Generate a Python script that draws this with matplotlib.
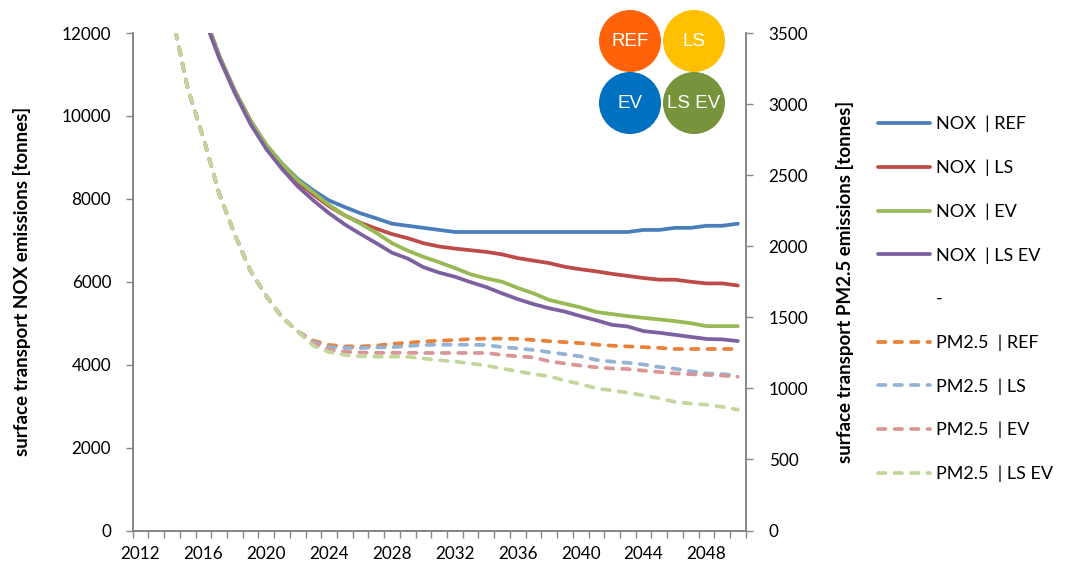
import numpy as np
import matplotlib.pyplot as plt
from matplotlib.lines import Line2D
from matplotlib.patches import Circle
from matplotlib.ticker import FixedLocator

plt.rcParams['font.family'] = ['Lato', 'DejaVu Sans']

years = list(range(2012, 2051))

# NOX, left axis [tonnes]
nox_ref = [17800, 16200, 14800, 13600, 12500, 11450, 10600, 9880, 9300, 8850,
           8480, 8200, 7960, 7800, 7650, 7530, 7400, 7350, 7300, 7250,
           7200, 7200, 7200, 7200, 7200, 7200, 7200, 7200, 7200, 7200,
           7200, 7200, 7250, 7250, 7300, 7300, 7350, 7350, 7400]
nox_ls = [17800, 16200, 14800, 13600, 12500, 11450, 10600, 9880, 9250, 8800,
          8400, 8100, 7820, 7600, 7420, 7280, 7150, 7050, 6930, 6850,
          6800, 6760, 6720, 6660, 6570, 6510, 6450, 6360, 6300, 6250,
          6190, 6140, 6090, 6050, 6050, 6000, 5960, 5960, 5910]
nox_ev = [17800, 16200, 14800, 13600, 12500, 11450, 10600, 9880, 9300, 8850,
          8450, 8150, 7850, 7600, 7400, 7180, 6930, 6750, 6600, 6470,
          6330, 6180, 6080, 6000, 5850, 5720, 5560, 5470, 5380, 5270,
          5220, 5170, 5130, 5090, 5050, 5000, 4930, 4930, 4930]
nox_lsev = [17700, 16100, 14700, 13500, 12400, 11400, 10550, 9800, 9200, 8720,
            8300, 7960, 7650, 7380, 7150, 6930, 6700, 6560, 6350, 6220,
            6120, 5990, 5870, 5720, 5580, 5460, 5360, 5280, 5170, 5070,
            4960, 4920, 4810, 4770, 4720, 4670, 4620, 4610, 4570]

# PM2.5, right axis [tonnes]
pm_ref = [4700, 4150, 3630, 3110, 2760, 2370, 2080, 1825, 1650, 1500, 1400,
          1335, 1305, 1295, 1295, 1300, 1314, 1320, 1330, 1335, 1340, 1347,
          1350, 1350, 1348, 1340, 1332, 1325, 1318, 1308, 1300, 1295, 1290,
          1285, 1277, 1277, 1277, 1277, 1277]
pm_ls = [4700, 4150, 3630, 3110, 2760, 2370, 2080, 1825, 1650, 1500, 1400,
         1325, 1290, 1284, 1284, 1288, 1290, 1298, 1305, 1307, 1307, 1307,
         1305, 1290, 1282, 1270, 1255, 1240, 1225, 1200, 1188, 1180, 1168,
         1150, 1138, 1120, 1105, 1100, 1090]
pm_ev = [4700, 4150, 3630, 3110, 2760, 2370, 2080, 1825, 1650, 1500, 1400,
         1315, 1270, 1258, 1252, 1250, 1250, 1250, 1249, 1249, 1249, 1249,
         1249, 1235, 1225, 1218, 1190, 1175, 1160, 1148, 1140, 1136, 1125,
         1115, 1105, 1100, 1095, 1090, 1082]
pm_lsev = [4700, 4150, 3630, 3110, 2760, 2370, 2080, 1825, 1650, 1500, 1400,
           1300, 1255, 1235, 1225, 1223, 1223, 1222, 1210, 1198, 1188, 1175,
           1160, 1140, 1120, 1100, 1085, 1055, 1030, 1000, 985, 970, 950,
           930, 905, 893, 885, 870, 850]

nox_series = [("NOX  | REF", nox_ref, "#4A7EBB"),
              ("NOX  | LS", nox_ls, "#BE4B48"),
              ("NOX  | EV", nox_ev, "#98B954"),
              ("NOX  | LS EV", nox_lsev, "#7D60A0")]
pm_series = [("PM2.5  | REF", pm_ref, "#E8823A"),
             ("PM2.5  | LS", pm_ls, "#95B3D7"),
             ("PM2.5  | EV", pm_ev, "#D99694"),
             ("PM2.5  | LS EV", pm_lsev, "#C3D69B")]

scenarios = ["REF", "LS", "EV", "LS EV"]
scen_colors = ["#FF6309", "#FFC000", "#0070C0", "#77933C"]

fig = plt.figure(figsize=(10.71, 5.71), dpi=100)
ax = fig.add_axes([132.7 / 1071, 40.5 / 571, 613 / 1071, 497.5 / 571])
ax2 = ax.twinx()

grey = "#868686"
lw = 2.7
fs = 12.3

handles = []
for name, vals, col in nox_series:
    h, = ax.plot(years, vals, color=col, lw=lw, solid_capstyle='round', label=name)
    handles.append(h)
handles.append(Line2D([], [], linestyle='none', label='-'))
for name, vals, col in pm_series:
    h, = ax2.plot(years, vals, color=col, lw=lw, dashes=(2.0, 2.4),
                  dash_capstyle='round', label=name)
    handles.append(h)

ax.set_xlim(2011.5, 2050.5)
ax.set_ylim(0, 12000)
ax2.set_ylim(0, 3500)
ax.set_yticks(range(0, 12001, 2000))
ax2.set_yticks(range(0, 3501, 500))
ax.set_xticks(range(2012, 2050, 4))
ax.xaxis.set_minor_locator(FixedLocator(np.arange(2011.5, 2051, 1)))
ax.tick_params(axis='x', which='major', length=0, pad=11, labelsize=fs)
ax.tick_params(axis='x', which='minor', length=5, width=1, color=grey, direction='out')
ax.tick_params(axis='y', length=5, width=1, color=grey, pad=10.5, labelsize=fs)
ax2.tick_params(axis='y', length=5, width=1, color=grey, pad=11.5, labelsize=fs)

for a in (ax, ax2):
    a.spines['top'].set_visible(False)
    for s in ('left', 'right', 'bottom'):
        a.spines[s].set_color(grey)
        a.spines[s].set_linewidth(1.2)

ax.set_ylabel("surface transport NOX emissions [tonnes]", fontsize=13.5,
              fontweight='bold')
ax2.set_ylabel("surface transport PM2.5 emissions [tonnes]", fontsize=13.5,
               fontweight='bold')
ax.yaxis.set_label_coords(-0.166, 0.5)
ax2.yaxis.set_label_coords(1.147, 0.5)

fig.legend(handles=handles, loc='upper left', bbox_to_anchor=(878 / 1071, 1 - 116 / 571),
           frameon=False, fontsize=13, handlelength=2.9, handletextpad=0.33,
           labelspacing=1.51, borderpad=0, borderaxespad=0)

# scenario badges
over = fig.add_axes([0, 0, 1, 1])
over.set_xlim(0, 1071)
over.set_ylim(571, 0)
over.axis('off')
centers = [(630, 41), (694, 41), (630, 103), (694, 103)]
for (cx, cy), lab, col in zip(centers, scenarios, scen_colors):
    over.add_patch(Circle((cx, cy), 31, color=col, ec='none'))
    over.text(cx, cy + 1, lab, color='white', ha='center', va='center',
              fontsize=13.5, family=['Liberation Sans', 'DejaVu Sans'])

fig.savefig("out.png", dpi=100)
